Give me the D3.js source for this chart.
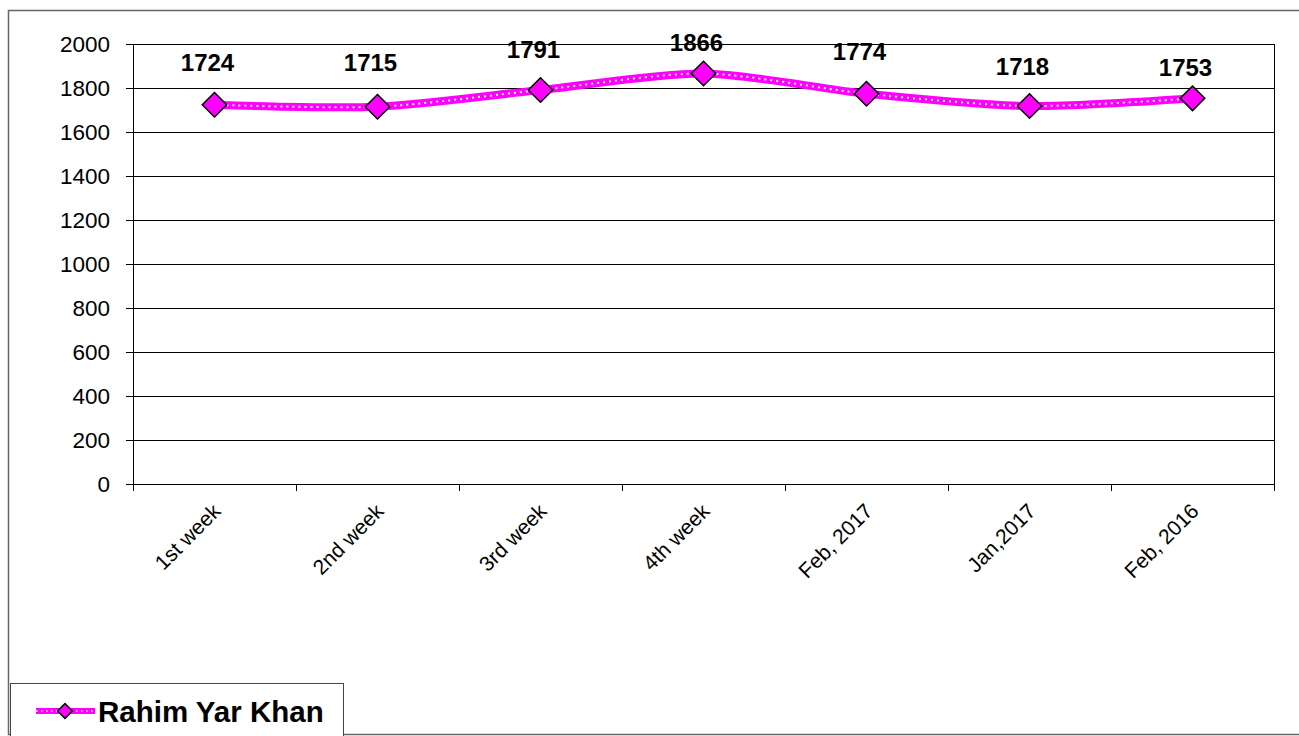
<!DOCTYPE html>
<html>
<head>
  <meta charset="UTF-8">
  <style>
    body { margin: 0; background: #fff; }
    svg { display: block; font-family: Arial, "Liberation Sans", sans-serif; }
  </style>
</head>
<body>
<svg></svg>
<script src="https://d3js.org/d3.v7.min.js"></script>

<script>

// chart data
const categories = ["1st week", "2nd week", "3rd week", "4th week", "Feb, 2017", "Jan,2017", "Feb, 2016"];
const prices = [1724, 1715, 1791, 1866, 1774, 1718, 1753];
const yTicks = [0, 200, 400, 600, 800, 1000, 1200, 1400, 1600, 1800, 2000];
const seriesName = "Rahim Yar Khan";

// how far each value label sits above its marker
const labelGap = [34, 36, 32, 22, 34, 31, 22];

let width = 1299, height = 736;
let plot = {left: 133, right: 1274, top: 44, bottom: 484};

let svg = d3.select("svg")
    .attr("width", width)
    .attr("height", height);

// chart area border
svg.append("rect")
    .attr("x", 8.5).attr("y", 10.5)
    .attr("width", 1300).attr("height", 724)
    .attr("fill", "#fff")
    .attr("stroke", "#666")
    .attr("stroke-width", 1.5);

let x = d3.scaleBand()
    .domain(categories)
    .range([plot.left, plot.right]);

let y = d3.scaleLinear()
    .domain([0, 2000])
    .range([plot.bottom, plot.top]);

// gridlines
svg.append("g")
    .selectAll("line")
    .data(yTicks)
    .enter()
    .append("line")
    .attr("x1", plot.left - 7)
    .attr("x2", plot.right)
    .attr("y1", d => Math.round(y(d)) + 0.5)
    .attr("y2", d => Math.round(y(d)) + 0.5)
    .attr("stroke", "#000")
    .attr("stroke-width", 1);

// y labels
svg.append("g")
    .selectAll("text")
    .data(yTicks)
    .enter()
    .append("text")
    .attr("x", 110)
    .attr("y", d => y(d))
    .attr("dy", "0.36em")
    .attr("text-anchor", "end")
    .attr("font-size", 22.5)
    .text(d => d);

// right border of plot area
svg.append("line")
    .attr("x1", plot.right + 0.5).attr("x2", plot.right + 0.5)
    .attr("y1", plot.top).attr("y2", plot.bottom + 7)
    .attr("stroke", "#000");

// left axis line
svg.append("line")
    .attr("x1", plot.left + 0.5).attr("x2", plot.left + 0.5)
    .attr("y1", plot.top).attr("y2", plot.bottom + 7)
    .attr("stroke", "#000");

// x ticks between categories
let xEdges = categories.map(c => x(c)).concat([plot.right]);
svg.append("g")
    .selectAll("line")
    .data(xEdges)
    .enter()
    .append("line")
    .attr("x1", d => Math.round(d) + 0.5)
    .attr("x2", d => Math.round(d) + 0.5)
    .attr("y1", plot.bottom)
    .attr("y2", plot.bottom + 7)
    .attr("stroke", "#000");

// x labels, rotated
svg.append("g")
    .selectAll("text")
    .data(categories)
    .enter()
    .append("text")
    .attr("transform", d => "translate(" + (x(d) + x.bandwidth() / 2 - 3) + "," + 502 + ") rotate(-45)")
    .attr("text-anchor", "end")
    .attr("dy", "0.71em")
    .attr("font-size", 21)
    .text(d => d);

// series line
let pts = prices.map((v, i) => [x(categories[i]) + x.bandwidth() / 2, y(v)]);
let line = d3.line().curve(d3.curveCardinal.tension(0.2));

svg.append("path")
    .attr("d", line(pts))
    .attr("fill", "none")
    .attr("stroke", "#ff00ff")
    .attr("stroke-width", 8);

svg.append("path")
    .attr("d", line(pts))
    .attr("fill", "none")
    .attr("stroke", "#fff")
    .attr("stroke-width", 2)
    .attr("stroke-dasharray", "2,4");

// diamond markers
let diamond = d3.symbol().type(d3.symbolSquare).size(300);
svg.append("g")
    .selectAll("path")
    .data(pts)
    .enter()
    .append("path")
    .attr("d", diamond)
    .attr("transform", d => "translate(" + d[0] + "," + d[1] + ") rotate(45)")
    .attr("fill", "#ff00ff")
    .attr("stroke", "#000")
    .attr("stroke-width", 1.5);

// value labels
svg.append("g")
    .selectAll("text")
    .data(prices)
    .enter()
    .append("text")
    .attr("x", (d, i) => pts[i][0] - 7)
    .attr("y", (d, i) => pts[i][1] - labelGap[i])
    .attr("text-anchor", "middle")
    .attr("font-size", 24)
    .attr("font-weight", "bold")
    .text(d => d);

// legend
let lg = svg.append("g");
lg.append("rect")
    .attr("x", 10.5).attr("y", 683.5)
    .attr("width", 333).attr("height", 60)
    .attr("fill", "#fff")
    .attr("stroke", "#444")
    .attr("stroke-width", 1);

lg.append("line")
    .attr("x1", 36).attr("x2", 95)
    .attr("y1", 711).attr("y2", 711)
    .attr("stroke", "#ff00ff")
    .attr("stroke-width", 6);

lg.append("line")
    .attr("x1", 36).attr("x2", 95)
    .attr("y1", 711).attr("y2", 711)
    .attr("stroke", "#fff")
    .attr("stroke-width", 1.5)
    .attr("stroke-dasharray", "1.5,3.5");

lg.append("path")
    .attr("d", d3.symbol().type(d3.symbolSquare).size(110))
    .attr("transform", "translate(65,711) rotate(45)")
    .attr("fill", "#ff00ff")
    .attr("stroke", "#000")
    .attr("stroke-width", 1.5);

lg.append("text")
    .attr("x", 98)
    .attr("y", 722)
    .attr("font-size", 29.5)
    .attr("font-weight", "bold")
    .text(seriesName);

</script>

</body>
</html>
